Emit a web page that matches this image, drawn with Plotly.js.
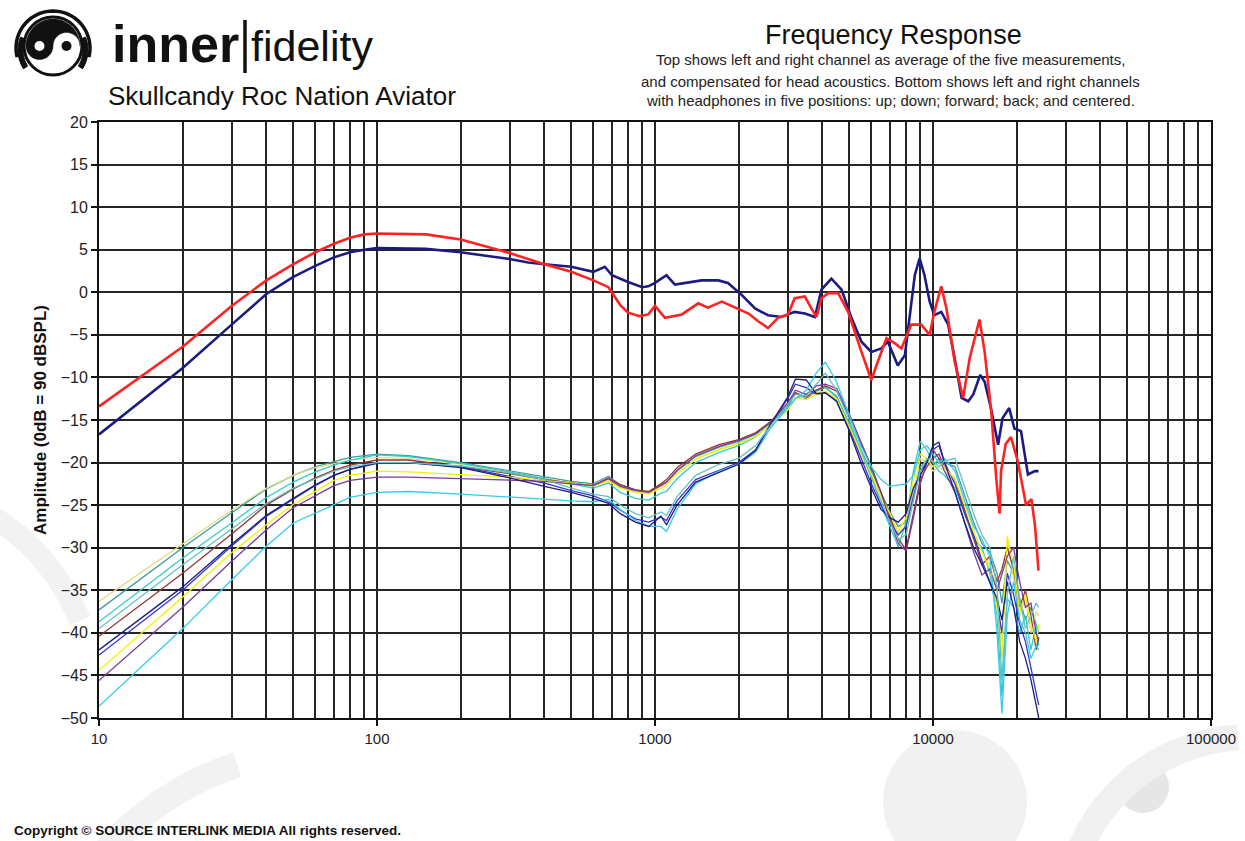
<!DOCTYPE html>
<html>
<head>
<meta charset="utf-8">
<script src="https://cdn.plot.ly/plotly-3.0.1.min.js"></script>
<style>html,body{margin:0;padding:0;background:#fff;}#chart{width:1245px;height:841px;}</style>
</head>
<body>
<div id="chart"></div>
<script>
// ---------------- DATA ----------------
// Top: average of five measurements, compensated (red = left, navy = right)
const RED_FREQ = [10,20,30,40,50,60,70,80,90,100,150,200,300,400,500,600,680,750,800,880,946,1000,1086,1250,1430,1550,1740,1990,2170,2350,2550,2770,3010,3180,3460,3650,3810,3970,4200,4560,4950,5530,6000,6340,6800,7300,7700,8350,9070,9730,10110,10710,11180,11960,12830,13560,14700,15340,16200,16880,17360,17570,18270,19070,20170,21620,22590,23260,23960];
const RED_DB = [-13.4,-6.4,-1.6,1.4,3.3,4.7,5.7,6.4,6.8,6.9,6.8,6.2,4.6,3.3,2.4,1.4,0.6,-1.5,-2.4,-2.8,-2.6,-1.6,-3.0,-2.6,-1.3,-1.8,-1.1,-1.9,-2.5,-3.4,-4.2,-3.0,-2.6,-0.7,-0.5,-1.9,-2.9,-0.7,-0.1,-0.1,-2.3,-7.0,-10.3,-8.1,-5.4,-6.0,-6.6,-3.8,-3.8,-5.0,-2.3,0.7,-1.9,-8.1,-12.4,-7.7,-3.2,-7.0,-14.0,-21.8,-26.0,-21.0,-17.8,-17.0,-19.8,-25.0,-24.3,-27.3,-32.7];

const NAVY_FREQ = [10,20,30,40,50,60,70,80,90,100,150,200,300,350,400,500,600,660,700,800,900,946,1000,1100,1180,1280,1470,1690,1830,2050,2290,2550,2850,3180,3460,3760,3970,4310,4690,5090,5530,6000,6520,6880,7470,7920,8350,8600,8950,9320,9730,10110,10710,11340,11960,12670,13390,13960,14780,15340,16200,17150,17780,18800,19620,20730,21950,23260,23960];
const NAVY_DB = [-16.7,-8.9,-3.8,-0.2,1.8,3.1,4.1,4.7,5.0,5.2,5.1,4.7,3.9,3.5,3.3,3.0,2.4,3.0,2.0,1.2,0.6,0.7,1.1,2.0,0.9,1.1,1.4,1.4,1.1,-0.3,-1.9,-2.7,-2.9,-2.3,-2.5,-2.9,0.3,1.6,0.3,-3.0,-5.8,-7.0,-6.6,-5.8,-8.6,-7.4,-1.1,2.0,4.0,2.0,-1.1,-2.7,-2.3,-3.8,-7.7,-12.4,-12.8,-12.0,-9.7,-10.5,-13.8,-17.9,-14.8,-13.6,-16.0,-16.3,-21.4,-21.0,-21.0];

// Bottom: left and right channels, five positions each
const POS_FREQ = [10,20,30,40,50,60,70,80,100,130,200,300,400,500,600,680,750,850,950,1050,1100,1200,1400,1700,2000,2300,2600,3000,3200,3500,3800,4100,4500,5000,5500,6000,6500,7000,7500,8000,8500,9000,9500,10000,10500,11000,12000,13000,14000,15000,16000,17000,17700,18500,19500,20500,21500,22500,23500,24000];
const POS_A = [-37.3,-30.0,-25.9,-23.1,-21.5,-20.5,-19.9,-19.4,-19.0,-19.2,-20.0,-21.0,-21.7,-22.2,-22.5,-21.6,-22.6,-23.2,-23.4,-22.6,-22.3,-21.0,-19.3,-18.2,-17.5,-16.7,-15.4,-13.5,-11.8,-12.5,-11.6,-11.2,-12.2,-15.5,-18.5,-21.0,-23.5,-25.8,-27.5,-27.0,-23.5,-20.5,-19.8,-20.5,-19.5,-20.0,-20.5,-24.0,-27.0,-29.5,-30.5,-33.0,-36.5,-31.5,-33.0,-36.0,-38.5,-37.0,-39.0,-40.0];
const POS_B = [-36.3,-29.5,-25.6,-23.0,-21.5,-20.6,-20.1,-19.7,-19.4,-19.5,-20.2,-21.1,-21.9,-22.4,-22.8,-22.0,-22.9,-23.5,-23.6,-22.8,-22.5,-21.3,-19.6,-18.4,-17.7,-16.9,-15.6,-13.8,-12.4,-12.2,-11.8,-11.6,-12.6,-16.0,-19.0,-21.5,-24.0,-26.5,-28.2,-27.5,-23.5,-19.5,-20.0,-21.0,-20.5,-21.0,-22.5,-25.5,-28.5,-30.5,-32.0,-35.0,-41.0,-29.0,-33.5,-38.0,-36.0,-40.0,-37.5,-38.0];
const POS_C = [-38.7,-31.2,-27.1,-24.1,-22.3,-21.1,-20.3,-19.7,-19.1,-19.3,-20.1,-21.1,-21.9,-22.5,-23.0,-22.4,-23.5,-24.2,-24.4,-23.6,-23.4,-21.9,-20.0,-18.8,-18.0,-17.0,-15.5,-13.8,-12.5,-12.0,-11.5,-11.0,-12.4,-15.5,-18.5,-21.5,-25.0,-27.5,-29.9,-27.0,-21.0,-17.5,-18.5,-20.0,-21.0,-21.5,-23.0,-26.0,-29.0,-30.0,-33.0,-38.0,-47.5,-36.0,-37.0,-40.0,-38.0,-42.0,-39.0,-41.5];
const POS_D = [-40.4,-33.0,-28.4,-25.0,-23.1,-21.8,-20.9,-20.3,-19.7,-19.7,-20.5,-21.3,-22.0,-22.4,-22.7,-21.8,-22.6,-23.2,-23.4,-22.5,-22.0,-20.6,-19.0,-17.9,-17.3,-16.5,-15.2,-13.2,-11.8,-12.3,-11.5,-11.0,-11.6,-14.5,-17.8,-20.5,-23.5,-26.5,-29.0,-30.2,-26.0,-22.0,-20.5,-19.5,-19.0,-20.5,-22.0,-25.5,-29.0,-32.0,-31.0,-34.0,-32.5,-30.0,-32.5,-37.0,-35.0,-38.0,-42.0,-40.5];
const POS_E = [-42.6,-35.0,-29.8,-26.3,-24.3,-22.7,-21.5,-20.8,-20.0,-20.0,-20.5,-21.6,-22.4,-23.3,-23.9,-24.6,-25.6,-26.6,-27.0,-26.4,-26.8,-24.5,-22.0,-20.9,-20.0,-18.5,-15.6,-12.5,-10.8,-11.2,-12.0,-11.8,-12.8,-16.0,-19.5,-22.5,-25.0,-27.0,-28.5,-27.5,-24.0,-21.0,-20.0,-18.5,-18.0,-20.0,-22.5,-26.0,-28.5,-31.5,-34.0,-36.5,-40.0,-33.0,-35.5,-39.0,-41.0,-44.0,-47.0,-48.5];
const POS_F = [-44.4,-35.8,-30.6,-27.3,-24.9,-23.4,-22.1,-21.5,-21.0,-21.1,-21.4,-21.7,-22.1,-22.4,-22.7,-22.2,-23.0,-23.5,-23.7,-23.0,-22.6,-21.3,-19.6,-18.5,-17.8,-16.9,-15.6,-13.8,-12.4,-12.6,-12.0,-11.7,-12.5,-15.8,-18.8,-21.3,-24.0,-26.0,-28.0,-26.5,-22.0,-19.0,-19.5,-20.5,-20.0,-20.5,-22.0,-25.0,-28.0,-30.5,-32.5,-37.0,-43.0,-28.7,-32.0,-37.5,-35.5,-39.0,-41.0,-39.0];
const POS_G = [-45.6,-37.0,-31.6,-27.9,-25.3,-23.9,-22.7,-22.1,-21.7,-21.7,-21.9,-22.0,-22.2,-22.5,-22.7,-21.9,-22.8,-23.3,-23.5,-22.7,-22.3,-20.9,-19.2,-18.1,-17.4,-16.6,-15.3,-13.0,-11.5,-12.0,-11.0,-10.8,-11.3,-14.3,-17.5,-20.5,-23.5,-26.8,-29.5,-30.4,-26.5,-22.5,-20.0,-18.5,-19.5,-21.0,-23.5,-27.0,-30.5,-33.2,-32.5,-35.0,-33.0,-31.0,-30.0,-34.0,-37.0,-36.5,-40.0,-41.0];
const POS_H = [-48.6,-39.5,-33.8,-29.8,-27.1,-25.9,-24.9,-24.1,-23.5,-23.4,-23.7,-24.1,-24.3,-24.5,-24.6,-24.3,-25.5,-26.8,-27.5,-27.5,-28.1,-25.5,-22.5,-21.0,-20.2,-18.8,-16.0,-13.5,-12.5,-11.5,-9.5,-8.2,-10.5,-14.5,-18.0,-20.5,-22.0,-22.8,-22.6,-22.5,-21.5,-18.5,-18.0,-19.0,-20.0,-19.5,-21.0,-24.5,-27.5,-29.0,-31.0,-40.0,-49.5,-38.0,-34.0,-38.5,-40.0,-43.0,-41.5,-42.0];
const POS_I = [-42.0,-34.6,-29.6,-26.2,-24.2,-22.6,-21.5,-20.8,-20.1,-20.0,-20.6,-21.8,-22.8,-23.5,-24.2,-24.8,-26.0,-27.0,-27.5,-26.3,-27.3,-25.0,-22.3,-21.2,-20.2,-18.6,-15.5,-12.3,-10.2,-10.3,-11.9,-11.8,-12.8,-16.3,-20.0,-23.0,-25.5,-26.5,-27.0,-26.0,-23.0,-21.5,-20.0,-18.0,-17.6,-20.0,-23.5,-27.0,-30.0,-32.0,-34.0,-36.0,-38.5,-34.0,-37.0,-41.0,-43.0,-45.5,-48.5,-50.0];
const POS_J = [-39.5,-32.0,-27.8,-24.8,-23.0,-21.9,-21.0,-20.5,-20.0,-20.0,-20.4,-21.2,-22.0,-23.0,-23.7,-24.0,-25.0,-26.0,-26.5,-25.8,-26.2,-24.0,-21.5,-20.2,-19.5,-18.0,-15.8,-13.2,-12.0,-12.2,-10.8,-9.5,-11.5,-15.0,-18.5,-21.8,-24.5,-27.0,-29.0,-28.5,-24.5,-21.0,-19.5,-19.8,-20.5,-19.8,-19.5,-23.0,-26.0,-28.5,-30.0,-34.5,-45.5,-35.5,-31.0,-36.0,-39.5,-38.0,-36.5,-37.0];

// Axis ticks
const X_MAJOR = [10,100,1000,10000,100000];
const X_LABELS = ['10','100','1000','10000','100000'];
const X_MINOR = [20,30,40,50,60,70,80,90,200,300,400,500,600,700,800,900,2000,3000,4000,5000,6000,7000,8000,9000,20000,30000,40000,50000,60000,70000,80000,90000];

// ---------------- STYLE ----------------
const FONT = 'Liberation Sans, Arial, Helvetica, sans-serif';
const POS_SERIES = [POS_A,POS_B,POS_C,POS_D,POS_E,POS_F,POS_G,POS_H,POS_I,POS_J];
const POS_COLORS = ['#3f9c9c','#dede86','#33cccc','#993333','#3535cc','#f2f200','#7a3a9e','#33ccee','#1c1c82','#66c0c0'];

const traces = [];
POS_SERIES.forEach((s,i)=>{
  traces.push({x:POS_FREQ, y:s, type:'scatter', mode:'lines', hoverinfo:'skip',
    line:{color:POS_COLORS[i], width:1.3}});
});
traces.push({x:NAVY_FREQ, y:NAVY_DB, type:'scatter', mode:'lines', hoverinfo:'skip', line:{color:'#1c1c80', width:2.6}});
traces.push({x:RED_FREQ, y:RED_DB, type:'scatter', mode:'lines', hoverinfo:'skip', line:{color:'#ff2222', width:2.6}});

// ---------------- DECORATION (pixel -> paper helpers) ----------------
const ML=99, MR=34, MT=122, MB=123, W=1245, H=841;
const PW=W-ML-MR, PH=H-MT-MB;
const px = x => (x-ML)/PW;
const py = y => (H-MB-y)/PH;
function arcPts(cx,cy,r,a0,a1,n,sign){const p=[];for(let i=0;i<=n;i++){const t=a0+(a1-a0)*i/n;p.push([cx+r*Math.cos(t), cy-sign*r*Math.sin(t)]);}return p;}
function toPath(pts,close){return 'M'+pts.map(p=>px(p[0]).toFixed(5)+','+py(p[1]).toFixed(5)).join(' L')+(close?' Z':'');}
function circ(cx,cy,r,fill,lineColor,lw){return {type:'circle',xref:'paper',yref:'paper',x0:px(cx-r),x1:px(cx+r),y0:py(cy+r),y1:py(cy-r),fillcolor:fill,line:{color:lineColor||fill,width:lw||0},layer:'above'};}

const CX=53, CY=46, R=27;
const yin = [].concat(
  arcPts(CX,CY,R,Math.PI,0,40,1),
  arcPts(CX+R/2,CY,R/2,0,Math.PI,24,1),
  arcPts(CX-R/2,CY,R/2,0,Math.PI,24,-1));
const shapes = [
  // watermark (margins only)
  Object.assign(circ(955,802,72,'#f1f1f1'),{layer:'below'}),
  Object.assign(circ(1143,787,26,'#e6e6e6'),{layer:'below'}),
  {type:'path',xref:'paper',yref:'paper',layer:'below',path:toPath(arcPts(1250,922,185,Math.PI*0.52,Math.PI*0.95,30,1),false),line:{color:'#f0f0f0',width:26}},
  {type:'path',xref:'paper',yref:'paper',layer:'below',path:toPath(arcPts(330,1050,300,Math.PI*0.6,Math.PI*0.85,30,1),false),line:{color:'#f2f2f2',width:26}},
  {type:'path',xref:'paper',yref:'paper',layer:'below',path:toPath(arcPts(-120,700,215,Math.PI*0.12,Math.PI*0.45,30,1),false),line:{color:'#f2f2f2',width:22}},
  // logo
  circ(CX,CY,R+2,'rgba(0,0,0,0)','#111',3),
  {type:'path',xref:'paper',yref:'paper',layer:'above',path:toPath(yin,true),fillcolor:'#111',line:{color:'#111',width:0.5}},
  circ(CX-R/2,CY,5,'#fff'),
  circ(CX+R/2,CY,5,'#111'),
  {type:'path',xref:'paper',yref:'paper',layer:'above',path:toPath(arcPts(CX,CY+2,R+10,Math.PI*1.08,-Math.PI*0.08,40,1),false),line:{color:'#111',width:3.5}},
  {type:'path',xref:'paper',yref:'paper',layer:'above',path:toPath(arcPts(CX,CY+4,R+8,Math.PI*0.88,Math.PI*1.18,12,1).concat(arcPts(CX,CY+4,R+3,Math.PI*1.18,Math.PI*0.88,12,1)),true),fillcolor:'#111',line:{color:'#111',width:1}},
  {type:'path',xref:'paper',yref:'paper',layer:'above',path:toPath(arcPts(CX,CY+4,R+8,Math.PI*0.12,-Math.PI*0.18,12,1).concat(arcPts(CX,CY+4,R+3,-Math.PI*0.18,Math.PI*0.12,12,1)),true),fillcolor:'#111',line:{color:'#111',width:1}},
  // bar between inner|fidelity
  {type:'line',xref:'paper',yref:'paper',layer:'above',x0:px(245),x1:px(245),y0:py(20),y1:py(73),line:{color:'#111',width:3.5}}
];

function ann(text,x,y,size,opts){return Object.assign({text:text,xref:'paper',yref:'paper',x:px(x),y:py(y),showarrow:false,xanchor:'center',yanchor:'middle',font:{family:FONT,size:size,color:'#111'}},opts||{});}
const annotations = [
  ann('<b>inner</b>',241,44,52,{xanchor:'right',font:{family:FONT,size:52,color:'#111'}}),
  ann('fidelity',249,46,43,{xanchor:'left',font:{family:FONT,size:43,color:'#111'}}),
  ann('Skullcandy Roc Nation Aviator',106,96,26,{xanchor:'left'}),
  ann('Frequency Response',893,35,27),
  ann('Top shows left and right channel as average of the five measurements,',890,60,15,{font:{family:FONT,size:15,color:'#222'}}),
  ann('and compensated for head acoustics. Bottom shows left and right channels',890,81,15,{font:{family:FONT,size:15,color:'#222'}}),
  ann('with headphones in five positions: up; down; forward; back; and centered.',890,101,15,{font:{family:FONT,size:15,color:'#222'}}),
  ann('<b>Copyright © SOURCE INTERLINK MEDIA All rights reserved.</b>',12,830,13.5,{xanchor:'left',font:{family:FONT,size:13.5,color:'#111'}})
];

const layout = {
  width:W, height:H,
  margin:{l:ML,r:MR,t:MT,b:MB,pad:0},
  paper_bgcolor:'#ffffff', plot_bgcolor:'#ffffff',
  showlegend:false,
  font:{family:FONT,color:'#111'},
  xaxis:{type:'log', range:[1,5], tickmode:'array', tickvals:X_MAJOR, ticktext:X_LABELS,
    ticks:'outside', ticklen:6, tickwidth:2, tickcolor:'#111',
    showgrid:true, gridcolor:'#262626', gridwidth:2,
    minor:{tickmode:'array', tickvals:X_MINOR, showgrid:true, gridcolor:'#262626', gridwidth:2, ticks:''},
    showline:true, linecolor:'#111', linewidth:2, mirror:true, zeroline:false,
    tickfont:{family:FONT,size:15,color:'#222'}, fixedrange:true},
  yaxis:{range:[-50,20], tickmode:'linear', tick0:0, dtick:5,
    ticks:'outside', ticklen:6, tickwidth:2, tickcolor:'#111',
    showgrid:true, gridcolor:'#262626', gridwidth:2,
    showline:true, linecolor:'#111', linewidth:2, mirror:true, zeroline:false,
    tickfont:{family:FONT,size:16,color:'#222'},
    title:{text:'<b>Amplitude (0dB = 90 dBSPL)</b>', font:{family:FONT,size:17,color:'#111'}, standoff:10},
    fixedrange:true},
  shapes:shapes,
  annotations:annotations
};

Plotly.newPlot('chart', traces, layout, {displayModeBar:false, staticPlot:true});
</script>
</body>
</html>
